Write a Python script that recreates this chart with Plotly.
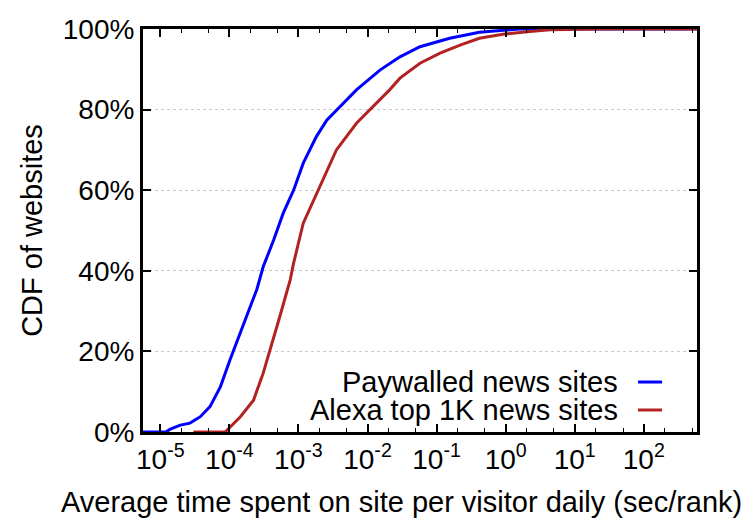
import plotly.graph_objects as go

# Paywalled news sites: log10(x) and CDF (%)
pay_logx = [-5.25, -4.92, -4.855, -4.71, -4.57, -4.42, -4.28, -4.13, -3.99, -3.84, -3.75,
            -3.60, -3.51, -3.36, -3.22, -3.07, -2.93, -2.74, -2.59, -2.40, -2.16, -1.82,
            -1.53, -1.24, -0.81, -0.38, -0.04, 0.20, 2.77]
pay_cdf = [0, 0, 0.7, 1.7, 2.2, 3.8, 6.3, 11.2, 17.9, 24.5, 28.6,
           35.5, 41.0, 47.6, 54.3, 60, 66.7, 73.3, 77.4, 80.7, 84.9, 89.8,
           93.1, 95.6, 97.7, 99.2, 99.6, 100, 100]

# Alexa top 1K news sites
alexa_logx = [-4.52, -4.06, -3.84, -3.65, -3.51, -3.41, -3.27, -3.12, -3.07, -2.93, -2.69,
              -2.45, -2.16, -1.87, -1.68, -1.53, -1.24, -0.95, -0.66, -0.38, -0.04, 0.35,
              0.64, 1.36, 2.77]
alexa_cdf = [0, 0, 3.8, 7.9, 14.6, 20.3, 28.6, 37.7, 41.9, 51.8, 60.9,
             70, 76.6, 81.6, 84.9, 87.8, 91.5, 94, 96, 97.7, 98.7, 99.4,
             99.8, 100, 100]

x_exponents = [-5, -4, -3, -2, -1, 0, 1, 2]
y_ticks = [0, 20, 40, 60, 80, 100]
series_names = ["Paywalled news sites", "Alexa top 1K news sites"]
series_colors = ["#0000ff", "#b22222"]
x_title = "Average time spent on site per visitor daily (sec/rank)"
y_title = "CDF of websites"

pay_x = [10 ** v for v in pay_logx]
alexa_x = [10 ** v for v in alexa_logx]

FONT = "Liberation Sans, Arial, Helvetica, sans-serif"
TS = 28  # tick font size
LS = 29  # title / legend font size

fig = go.Figure()
fig.add_trace(go.Scatter(x=pay_x, y=pay_cdf, mode="lines", name=series_names[0],
                         line=dict(color=series_colors[0], width=3), showlegend=False))
fig.add_trace(go.Scatter(x=alexa_x, y=alexa_cdf, mode="lines", name=series_names[1],
                         line=dict(color=series_colors[1], width=3), showlegend=False))

fig.update_layout(
    width=750, height=525,
    margin=dict(l=143, r=53, t=29, b=93),
    paper_bgcolor="white", plot_bgcolor="white",
    font=dict(family=FONT, size=TS, color="black"),
    xaxis=dict(
        type="log", range=[-5.25, 2.77],
        tickvals=[10 ** e for e in x_exponents],
        ticktext=["10<sup>%d</sup>" % e for e in x_exponents],
        ticks="inside", ticklen=8, tickwidth=1.5, tickcolor="black",
        minor=dict(ticks="inside", ticklen=4, tickwidth=1, tickcolor="black", showgrid=False),
        showline=True, linewidth=3, linecolor="black", mirror="ticks",
        showgrid=False, zeroline=False,
        tickfont=dict(size=TS),
    ),
    yaxis=dict(
        range=[0, 100],
        tickvals=y_ticks,
        ticktext=["%d%%" % v for v in y_ticks],
        ticks="inside", ticklen=8, tickwidth=1.5, tickcolor="black",
        showline=True, linewidth=3, linecolor="black", mirror="ticks",
        showgrid=True, gridcolor="#c8c8c8", griddash="dot", gridwidth=1,
        zeroline=False,
        title=dict(text=y_title, font=dict(size=LS), standoff=12),
        tickfont=dict(size=TS),
    ),
)

# x-axis title (gnuplot centres it on the canvas, not the plot area)
fig.add_annotation(x=0.4675, y=-0.174, xref="paper", yref="paper", text=x_title,
                   showarrow=False, xanchor="center", yanchor="middle",
                   font=dict(size=LS, family=FONT, color="black"))

# legend (gnuplot style: text right-aligned, sample to the right)
legend_y = [0.124, 0.0546]
for name, color, ly in zip(series_names, series_colors, legend_y):
    fig.add_annotation(x=0.861, y=ly, xref="paper", yref="paper", text=name,
                       showarrow=False, xanchor="right", yanchor="middle",
                       font=dict(size=LS, family=FONT, color="black"))
    fig.add_shape(type="line", xref="paper", yref="paper",
                  x0=0.8935, x1=0.937, y0=ly, y1=ly,
                  line=dict(color=color, width=3))

fig.write_html("out.html")
